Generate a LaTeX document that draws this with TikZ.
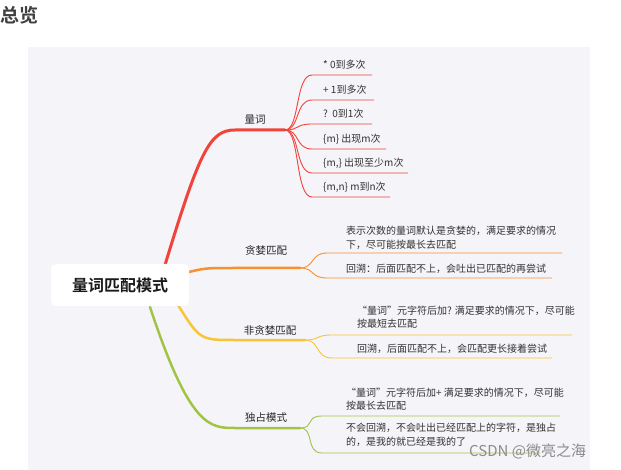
\documentclass[tikz,border=0pt]{standalone}
\usepackage{fontspec}
\setmainfont{Noto Sans CJK SC}
\newfontfamily\cjkb{Noto Sans CJK SC Bold}
\begin{document}
\begin{tikzpicture}[x=1pt,y=-1pt,
  t/.style={anchor=west,inner sep=0pt,font=\fontsize{10}{13.5}\selectfont,text=black!80},
  lbl/.style={anchor=center,inner sep=0pt,font=\fontsize{10.5}{12}\selectfont,text=black!85}]
\useasboundingbox (0,0) rectangle (621,470);
\definecolor{cr}{HTML}{F0443A}\definecolor{co}{HTML}{F7912F}
\definecolor{cy}{HTML}{F8C53A}\definecolor{cg}{HTML}{A2C445}
\definecolor{bg}{HTML}{F4F4F9}
\fill[white] (0,0) rectangle (621,470);
\fill[bg] (28,47) rectangle (590,470);
\node[anchor=west,inner sep=0pt,font=\cjkb\fontsize{19}{21}\selectfont,text=black!75] (title) at (0,15) {总览};
% branches
\draw[cr,line width=3pt,line cap=round] (165,265) .. controls (200,150) and (210,130) .. (235,130) -- (285,130);
\draw[co,line width=2.5pt,line cap=round] (185,273) .. controls (205,268) .. (235,268) -- (300,268);
\draw[cy,line width=2.5pt,line cap=round] (178,305) .. controls (200,340) .. (235,340) -- (305,340);
\draw[cg,line width=2.5pt,line cap=round] (150,307) .. controls (190,428) and (210,428) .. (235,428) -- (300,428);
\node[fill=white,rounded corners=5pt,minimum width=138pt,minimum height=42pt,font=\cjkb\fontsize{16}{18}\selectfont,text=black!90] (c) at (120,285) {量词匹配模式};
\node[lbl] (q) at (255,120) {量词};
\node[lbl] (g) at (266,251) {贪婪匹配};
\node[lbl] (ng) at (270,330) {非贪婪匹配};
\node[lbl] (d) at (266,418) {独占模式};
% red children
\foreach \y/\e/\s in {75/372/{* 0到多次},100/374/{+ 1到多次},124/372/{?\ \ 0到1次},149/386/{\{m\} 出现m次},173/408/{\{m,\} 出现至少m次},197/390/{\{m,n\} m到n次}}{
  \draw[cr,line width=0.9pt] (285,130) .. controls (300,130) and (295,\y) .. (312,\y) -- (\e,\y);
  \node[t] at (323,\y-10) {\s};
}
% orange
\draw[co,line width=0.9pt] (300,268) .. controls (315,268) and (310,253) .. (327,253) -- (562,253);
\draw[co,line width=0.9pt] (300,268) .. controls (315,268) and (310,278) .. (327,278) -- (552,278);
\node[t,align=left] (o1) at (346,238) {表示次数的量词默认是贪婪的，满足要求的情况\\下，尽可能按最长去匹配};
\node[t] (o2) at (346,269) {回溯：后面匹配不上，会吐出已匹配的再尝试};
% yellow
\draw[cy,line width=0.9pt] (305,340) .. controls (320,340) and (315,335) .. (332,335) -- (572,335);
\draw[cy,line width=0.9pt] (305,340) .. controls (320,340) and (315,358) .. (332,358) -- (552,358);
\node[t,align=left] (y1) at (357,317) {“量词”元字符后加? 满足要求的情况下，尽可能\\按最短去匹配};
\node[t] (y2) at (357,349) {回溯，后面匹配不上，会匹配更长接着尝试};
% green
\draw[cg,line width=0.9pt] (300,428) .. controls (315,428) and (305,416) .. (322,416) -- (560,416);
\draw[cg,line width=0.9pt] (300,428) .. controls (315,428) and (305,453) .. (322,453) -- (540,453);
\node[t,align=left] (g1) at (346,399) {“量词”元字符后加+ 满足要求的情况下，尽可能\\按最长去匹配};
\node[t,align=left] (g2) at (346,435) {不会回溯，不会吐出已经匹配上的字符，是独占\\的，是我的就已经是我的了};
\node[anchor=west,inner sep=0pt,font=\fontsize{15}{17}\selectfont,text=black!45] (wm) at (469,451) {CSDN @微亮之海};
\end{tikzpicture}
\end{document}
